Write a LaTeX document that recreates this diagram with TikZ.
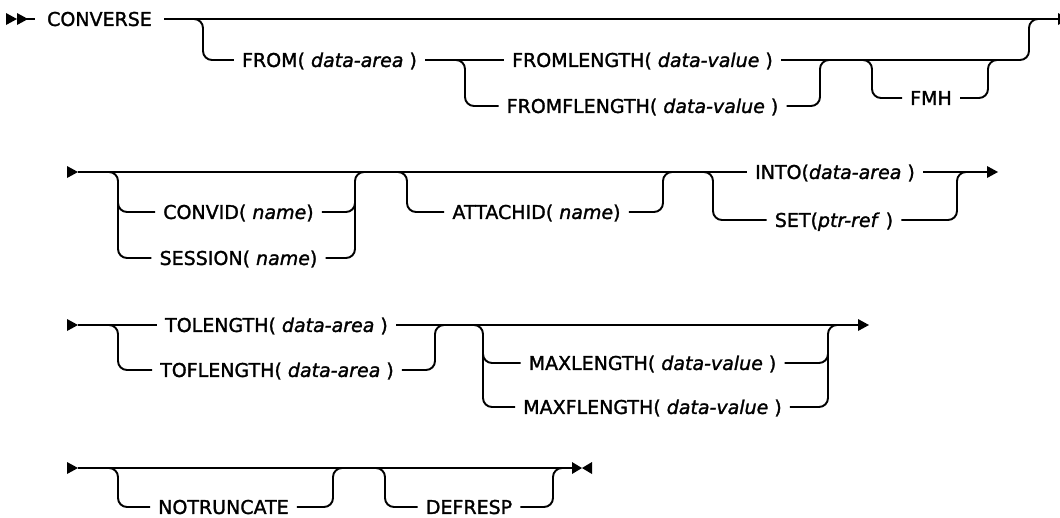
\documentclass[tikz,border=0pt]{standalone}
\usepackage{fontspec}
\newfontfamily\diafont[BoldFont={DejaVu Sans}, BoldFeatures={FakeBold=1.5},
  BoldItalicFont={DejaVu Sans Oblique}, BoldItalicFeatures={FakeBold=1.5}]{DejaVu Sans}
\begin{document}
\begin{tikzpicture}[x=1pt,y=-1pt,
  rail/.style={line width=1.9pt, rounded corners=9pt},
  kw/.style={font=\diafont\bfseries\fontsize{19}{19}\selectfont, text height=13.9pt,
             text depth=0pt, inner ysep=0pt, inner xsep=8pt},
  tipfill/.style={fill=black}]
\useasboundingbox (0,0) rectangle (1060,517);

% ---------- row 1 ----------
\node[kw, inner xsep=12pt] (converse) at (99.5,19) {CONVERSE};
\node[kw] (from) at (329.5,60) {FROM( \textit{data-area} )};
\node[kw] (fromlen) at (642.5,60) {FROMLENGTH( \textit{data-value} )};
\node[kw] (fromflen) at (642.5,106) {FROMFLENGTH( \textit{data-value} )};
\node[kw] (fmh) at (931,98) {FMH};
\coordinate (r1start) at (26,19);
\coordinate (r1end) at (1058,19);
\fill[tipfill] (6,13) -- (17,19) -- (6,25) -- cycle;
\fill[tipfill] (17,13) -- (28,19) -- (17,25) -- cycle;
\draw[rail] (r1start) -- (converse.west);
\draw[rail] (converse.east) -- (r1end);
\fill[tipfill] (r1end) ++(0,-6) -- ++(11,6) -- ++(-11,6) -- cycle;
\draw[rail] (190,19) -- (203,19) -- (203,60) -- (from.west);
\draw[rail] (from.east) -- (fromlen.west);
\draw[rail] (452,60) -- (465,60) -- (465,106) -- (fromflen.west);
\draw[rail] (fromflen.east) -- (820,106) -- (820,60) -- (833,60);
\draw[rail] (fromlen.east) -- (1029,60) -- (1029,19) -- (1042,19);
\draw[rail] (860,60) -- (872,60) -- (872,98) -- (fmh.west);
\draw[rail] (fmh.east) -- (988,98) -- (988,60) -- (1000,60);

% ---------- row 2 ----------
\node[kw] (convid) at (238.5,212) {CONVID( \textit{name})};
\node[kw] (session) at (238.5,258) {SESSION( \textit{name})};
\node[kw] (attachid) at (536.5,212) {ATTACHID( \textit{name})};
\node[kw] (into) at (835,172) {INTO(\textit{data-area} )};
\node[kw] (set) at (834,220) {SET(\textit{ptr-ref} )};
\coordinate (r2start) at (78,172);
\coordinate (r2end) at (987,172);
\fill[tipfill] (r2start) ++(-11,-6) -- ++(11,6) -- ++(-11,6) -- cycle;
\draw[rail] (r2start) -- (into.west);
\draw[rail] (into.east) -- (r2end);
\fill[tipfill] (r2end) ++(0,-6) -- ++(11,6) -- ++(-11,6) -- cycle;
\draw[rail] (106,172) -- (118,172) -- (118,212) -- (convid.west);
\draw[rail] (118,195) -- (118,258) -- (session.west);
\draw[rail] (convid.east) -- (355,212) -- (355,172) -- (367,172);
\draw[rail] (session.east) -- (355,258) -- (355,195);
\draw[rail] (395,172) -- (407,172) -- (407,212) -- (attachid.west);
\draw[rail] (attachid.east) -- (663,212) -- (663,172) -- (675,172);
\draw[rail] (701,172) -- (713,172) -- (713,220) -- (set.west);
\draw[rail] (set.east) -- (957,220) -- (957,172) -- (969,172);

% ---------- row 3 ----------
\node[kw] (tolen) at (276.5,325) {TOLENGTH( \textit{data-area} )};
\node[kw] (toflen) at (277,370) {TOFLENGTH( \textit{data-area} )};
\node[kw] (maxlen) at (652.5,363) {MAXLENGTH( \textit{data-value} )};
\node[kw] (maxflen) at (652.5,407) {MAXFLENGTH( \textit{data-value} )};
\coordinate (r3start) at (78,325);
\coordinate (r3end) at (858,325);
\fill[tipfill] (r3start) ++(-11,-6) -- ++(11,6) -- ++(-11,6) -- cycle;
\draw[rail] (r3start) -- (tolen.west);
\draw[rail] (tolen.east) -- (r3end);
\fill[tipfill] (r3end) ++(0,-6) -- ++(11,6) -- ++(-11,6) -- cycle;
\draw[rail] (106,325) -- (118,325) -- (118,370) -- (toflen.west);
\draw[rail] (toflen.east) -- (435,370) -- (435,325) -- (447,325);
\draw[rail] (471,325) -- (483,325) -- (483,363) -- (maxlen.west);
\draw[rail] (483,345) -- (483,407) -- (maxflen.west);
\draw[rail] (maxlen.east) -- (828,363) -- (828,325) -- (840,325);
\draw[rail] (maxflen.east) -- (828,407) -- (828,345);

% ---------- row 4 ----------
\node[kw] (notrunc) at (223.5,507) {NOTRUNCATE};
\node[kw] (defresp) at (469,507) {DEFRESP};
\coordinate (r4start) at (78,468);
\coordinate (r4end) at (572,468);
\fill[tipfill] (r4start) ++(-11,-6) -- ++(11,6) -- ++(-11,6) -- cycle;
\draw[rail] (r4start) -- (r4end);
\fill[tipfill] (r4end) ++(0,-6) -- ++(10,6) -- ++(-10,6) -- cycle;
\fill[tipfill] (r4end) ++(20,-6) -- ++(-10,6) -- ++(10,6) -- cycle;
\draw[rail] (106,468) -- (118,468) -- (118,507) -- (notrunc.west);
\draw[rail] (notrunc.east) -- (333,507) -- (333,468) -- (345,468);
\draw[rail] (373,468) -- (385,468) -- (385,507) -- (defresp.west);
\draw[rail] (defresp.east) -- (553,507) -- (553,468) -- (565,468);
\end{tikzpicture}
\end{document}
